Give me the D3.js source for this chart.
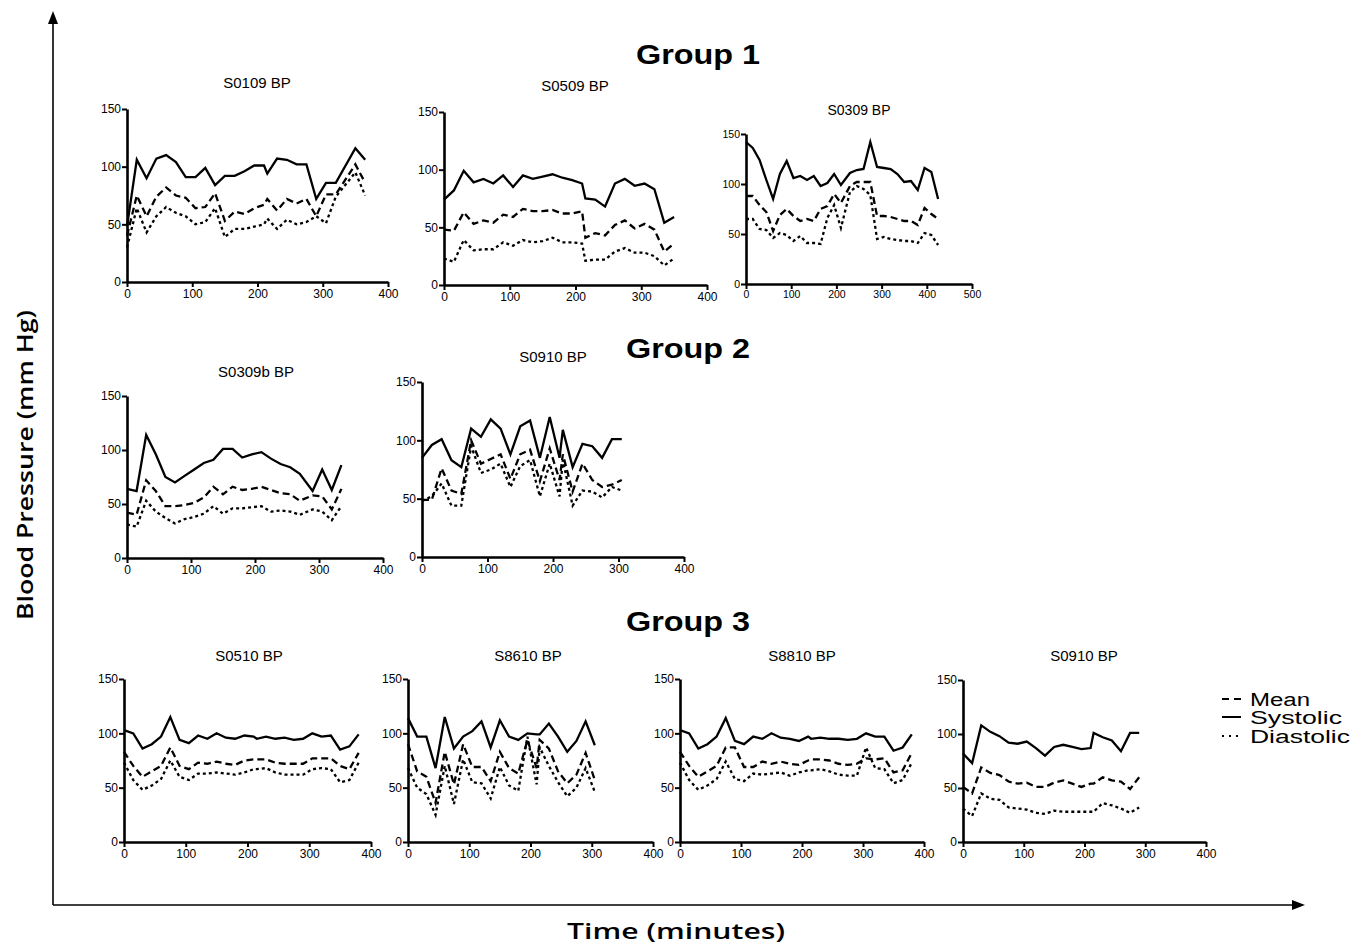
<!DOCTYPE html>
<html>
<head>
<meta charset="utf-8">
<script src="https://cdn.jsdelivr.net/npm/d3@7"></script>
<style>
  body { margin: 0; background: #fff; }
  svg { display: block; }
  .tick text { font-family: "Liberation Sans", Arial, sans-serif; }
</style>
</head>
<body>
<svg id="chart" width="1351" height="946"></svg>
<script>
// ---- data (minutes, mm Hg) ----
const groupNames = ["Group 1", "Group 2", "Group 3"];
const legendLabels = ["Mean", "Systolic", "Diastolic"];
const yTicks = [0, 50, 100, 150];

const s0109Time = [0,15,30,45,60,75,90,105,120,135,150,165,180,195,210,215,230,245,260,275,290,305,320,350,365];
const s0109Sys  = [48,106,90,107,110,104,91,91,99,84,92,92,96,101,101,94,107,106,102,102,72,86,86,116,106];
const s0109Mean = [40,75,57,74,82,75,73,64,65,77,53,61,59,64,67,72,62,72,68,72,57,76,76,102,86];
const s0109Dia  = [30,64,43,57,65,60,57,50,52,64,39,46,46,48,50,55,46,54,50,52,57,51,74,95,75];

const s0509Time = [0,15,30,45,60,75,90,105,120,135,150,165,180,195,210,215,230,245,260,275,290,305,320,335,350];
const s0509Sys  = [74,82,99,89,92,88,95,85,95,92,94,96,93,91,88,75,74,68,88,92,86,88,83,54,59];
const s0509Mean = [48,47,63,53,56,54,61,59,66,64,64,65,62,62,64,41,45,43,52,56,49,53,48,29,36];
const s0509Dia  = [23,20,39,30,31,31,37,34,39,37,38,41,37,37,36,21,22,22,29,32,28,28,25,17,23];

const s0309Time = [0,15,30,45,60,75,90,105,120,135,150,165,180,195,210,230,245,260,275,290,305,320,335,350,365,380,395,410,425];
const s0309Sys  = [142,136,124,104,85,110,123,106,108,104,108,98,101,110,99,111,114,115,142,117,116,115,110,102,103,94,116,112,85];
const s0309Mean = [88,88,79,72,53,69,75,68,63,65,63,75,78,90,81,98,102,102,102,68,68,67,65,63,63,59,76,70,65];
const s0309Dia  = [65,65,55,54,46,51,49,43,48,41,41,40,66,79,56,92,98,95,89,45,47,45,44,43,43,41,51,49,39];

const s0309bTime = [0,15,30,45,60,75,90,105,120,135,150,165,180,195,210,225,240,255,270,290,305,320,335];
const s0309bSys  = [64,62,114,96,75,70,76,82,88,91,101,101,93,96,98,92,87,84,78,62,82,63,86];
const s0309bMean = [42,40,72,62,48,48,49,51,56,66,59,66,63,64,66,63,60,59,53,58,57,45,64];
const s0309bDia  = [31,29,53,43,37,32,36,38,41,48,41,46,46,47,48,43,44,43,40,45,43,35,48];

const s0910aTime = [0,15,30,45,60,75,90,105,120,135,150,165,180,195,210,215,230,245,260,275,290,305];
const s0910aSys  = [85,96,101,83,77,110,103,118,110,88,112,117,85,120,85,109,77,97,95,85,101,101];
const s0910aMean = [49,49,76,57,54,100,80,84,88,67,88,92,65,93,66,88,56,80,66,60,62,66];
const s0910aDia  = [48,52,63,44,44,95,72,75,80,60,78,83,52,80,52,83,44,57,56,51,60,57];

const s0510Time = [0,15,30,45,60,75,90,105,120,135,150,165,180,195,210,215,230,245,260,275,290,305,320,335,350,365,380];
const s0510Sys  = [103,100,86,90,97,115,94,91,98,95,100,96,95,98,97,95,97,95,96,94,95,100,97,98,85,88,99];
const s0510Mean = [83,70,60,65,70,87,70,67,73,72,74,72,71,75,76,76,76,73,72,72,72,77,77,77,70,67,82];
const s0510Dia  = [73,57,48,52,58,75,60,57,63,63,64,63,62,64,67,67,68,64,62,62,62,67,68,67,55,57,73];

const s8610Time = [0,15,30,45,60,75,90,105,120,135,150,165,180,195,210,215,230,245,260,275,290,305];
const s8610Sys  = [114,97,97,68,115,86,97,102,111,87,112,97,94,100,99,99,109,97,83,93,111,89];
const s8610Mean = [90,65,60,36,83,53,90,69,69,56,83,68,63,94,68,94,86,65,54,62,82,57];
const s8610Dia  = [68,50,44,25,70,35,76,55,54,40,69,52,47,97,53,87,70,55,42,50,68,46];

const s8810Time = [0,15,30,45,60,75,90,105,120,135,150,165,180,195,210,215,230,245,260,275,290,305,320,335,350,365,380];
const s8810Sys  = [103,100,86,90,97,114,93,90,97,95,100,96,95,93,97,95,96,95,95,94,95,100,97,97,84,87,99];
const s8810Mean = [83,70,60,65,70,87,87,69,69,74,72,74,72,71,75,76,76,75,72,71,72,77,76,77,64,66,82];
const s8810Dia  = [73,57,48,52,58,74,58,56,63,62,63,64,61,64,66,66,67,65,62,61,61,87,68,67,54,57,73];

const s0910bTime = [0,15,30,45,60,75,90,105,120,135,150,165,180,195,210,215,230,245,260,275,290];
const s0910bSys  = [82,73,108,102,98,92,91,93,87,80,88,90,88,86,87,101,97,94,84,101,101];
const s0910bMean = [51,45,69,64,62,56,54,55,51,51,55,57,54,51,54,54,60,57,56,49,60];
const s0910bDia  = [31,24,45,40,39,32,31,30,27,26,29,28,28,28,28,28,36,34,31,27,32];

// ---- layout ----
const panels = [
  { title: "S0109 BP",  t: s0109Time,  sys: s0109Sys,  mean: s0109Mean,  dia: s0109Dia,  xMax: 400, box: [127, 388, 282, 109], tx: 257, ty: 88 },
  { title: "S0509 BP",  t: s0509Time,  sys: s0509Sys,  mean: s0509Mean,  dia: s0509Dia,  xMax: 400, box: [444, 707, 285, 112], tx: 575, ty: 91 },
  { title: "S0309 BP",  t: s0309Time,  sys: s0309Sys,  mean: s0309Mean,  dia: s0309Dia,  xMax: 500, box: [746, 972, 284, 134], tx: 859, ty: 115, small: true },
  { title: "S0309b BP", t: s0309bTime, sys: s0309bSys, mean: s0309bMean, dia: s0309bDia, xMax: 400, box: [127, 383, 558, 396], tx: 256, ty: 377 },
  { title: "S0910 BP",  t: s0910aTime, sys: s0910aSys, mean: s0910aMean, dia: s0910aDia, xMax: 400, box: [422, 684, 557, 382], tx: 553, ty: 362 },
  { title: "S0510 BP",  t: s0510Time,  sys: s0510Sys,  mean: s0510Mean,  dia: s0510Dia,  xMax: 400, box: [124, 371, 842, 679], tx: 249, ty: 661 },
  { title: "S8610 BP",  t: s8610Time,  sys: s8610Sys,  mean: s8610Mean,  dia: s8610Dia,  xMax: 400, box: [408, 653, 842, 679], tx: 528, ty: 661 },
  { title: "S8810 BP",  t: s8810Time,  sys: s8810Sys,  mean: s8810Mean,  dia: s8810Dia,  xMax: 400, box: [680, 924, 842, 679], tx: 802, ty: 661 },
  { title: "S0910 BP",  t: s0910bTime, sys: s0910bSys, mean: s0910bMean, dia: s0910bDia, xMax: 400, box: [963, 1206, 842, 680], tx: 1084, ty: 661 }
];
const groupPos = [[698, 64], [688, 358], [688, 631]];
const dashes = { sys: null, mean: "7,4", dia: "3,3" };

const svg = d3.select("#chart");
const font = "'Liberation Sans', Arial, Helvetica, sans-serif";

// big outer axes with arrowheads
svg.append("line").attr("x1", 53).attr("y1", 905).attr("x2", 53).attr("y2", 20)
  .attr("stroke", "#000").attr("stroke-width", 1.6);
svg.append("path").attr("d", "M53,11 L48,24 L58,24 Z").attr("fill", "#000");
svg.append("line").attr("x1", 53).attr("y1", 905).attr("x2", 1296).attr("y2", 905)
  .attr("stroke", "#000").attr("stroke-width", 1.6);
svg.append("path").attr("d", "M1305,905 L1292,900 L1292,910 Z").attr("fill", "#000");

svg.append("text")
  .attr("transform", "translate(33,465) rotate(-90)")
  .attr("text-anchor", "middle")
  .attr("font-family", "'Open Sans', sans-serif").attr("font-weight", 600)
  .attr("font-size", 21).attr("textLength", 310).attr("lengthAdjust", "spacingAndGlyphs")
  .text("Blood Pressure (mm Hg)");
svg.append("text")
  .attr("x", 676).attr("y", 939)
  .attr("text-anchor", "middle")
  .attr("font-family", "'Open Sans', sans-serif").attr("font-weight", 600)
  .attr("font-size", 21).attr("textLength", 218).attr("lengthAdjust", "spacingAndGlyphs")
  .text("Time (minutes)");

groupNames.forEach((g, i) => {
  svg.append("text")
    .attr("x", groupPos[i][0]).attr("y", groupPos[i][1])
    .attr("text-anchor", "middle")
    .attr("font-family", font).attr("font-weight", "bold").attr("font-size", 28)
    .attr("textLength", 124).attr("lengthAdjust", "spacingAndGlyphs")
    .text(g);
});

panels.forEach(p => {
  const [x0, x1, y0, y1] = p.box;
  const x = d3.scaleLinear().domain([0, p.xMax]).range([x0, x1]);
  const y = d3.scaleLinear().domain([0, 150]).range([y0, y1]);
  const fs = p.small ? 10.5 : 12;
  const g = svg.append("g");

  g.append("text").attr("x", p.tx).attr("y", p.ty)
    .attr("text-anchor", "middle").attr("font-family", font)
    .attr("font-size", p.small ? 14 : 15).text(p.title);

  const xa = g.append("g").attr("transform", `translate(0,${y0})`)
    .call(d3.axisBottom(x).tickValues(d3.range(0, p.xMax + 1, 100)).tickSize(5).tickSizeOuter(0).tickPadding(2));
  const ya = g.append("g").attr("transform", `translate(${x0},0)`)
    .call(d3.axisLeft(y).tickValues(yTicks).tickSize(5).tickSizeOuter(0).tickPadding(1));
  [xa, ya].forEach(a => {
    a.select(".domain").attr("stroke-width", 2.6);
    a.selectAll(".tick line").attr("stroke-width", 2);
    a.selectAll(".tick text").attr("font-size", fs).attr("fill", "#000");
  });

  ["dia", "mean", "sys"].forEach(k => {
    const pts = p.t.map((t, i) => [t, p[k][i]]);
    g.append("path")
      .attr("d", d3.line().x(d => x(d[0])).y(d => y(d[1]))(pts))
      .attr("fill", "none").attr("stroke", "#000")
      .attr("stroke-width", 2.3)
      .attr("stroke-dasharray", dashes[k]);
  });
});

// legend (rows sit tightly, as in the source figure)
const legY = [706, 724, 743];
const legKeys = ["mean", "sys", "dia"];
const legW = [60, 92, 100];
legendLabels.forEach((lab, i) => {
  svg.append("line")
    .attr("x1", 1222).attr("x2", 1241)
    .attr("y1", legY[i] - 7).attr("y2", legY[i] - 7)
    .attr("stroke", "#000").attr("stroke-width", 2)
    .attr("stroke-dasharray", legKeys[i] === "mean" ? "7,5" : legKeys[i] === "dia" ? "2,5" : null);
  svg.append("text")
    .attr("x", 1250).attr("y", legY[i])
    .attr("font-family", font).attr("font-size", 18)
    .attr("textLength", legW[i]).attr("lengthAdjust", "spacingAndGlyphs")
    .text(lab);
});
</script>
</body>
</html>
